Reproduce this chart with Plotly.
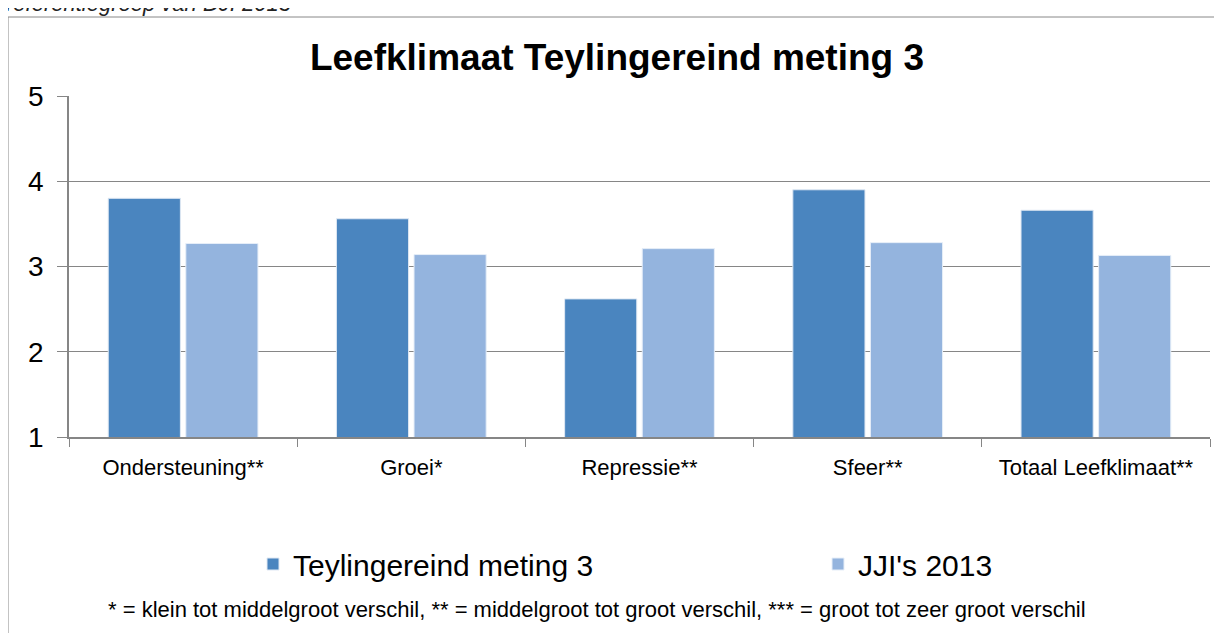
import plotly.graph_objects as go

categories = ["Ondersteuning**", "Groei*", "Repressie**", "Sfeer**", "Totaal Leefklimaat**"]
teylingereind = [3.80, 3.56, 2.62, 3.90, 3.66]
jji_2013 = [3.27, 3.14, 3.21, 3.28, 3.13]
series_names = ["Teylingereind meting 3", "JJI's 2013"]
y_ticks = [1, 2, 3, 4, 5]

# page has an 8px body margin, so work in page pixels and shift
OFF = 8
W, H = 1214, 625
L, R, T, B = 69 - OFF, W - (1210 - OFF), 96 - OFF, H - (437 - OFF)
pw, ph = W - L - R, H - T - B

def px(x):
    return (x - OFF - L) / pw

def py(y):
    return (H - B - (y - OFF)) / ph

font = "Liberation Sans"

fig = go.Figure()
fig.add_trace(go.Bar(x=categories, y=teylingereind, name=series_names[0], legend="legend",
                     marker=dict(color="#4a85bf", line=dict(color="#dfe8f3", width=1))))
fig.add_trace(go.Bar(x=categories, y=jji_2013, name=series_names[1], legend="legend2",
                     marker=dict(color="#94b4de", line=dict(color="#e6eef8", width=1))))

leg = dict(orientation="h", xanchor="left", yanchor="middle", y=py(564),
           font=dict(size=30, family=font), bgcolor="rgba(0,0,0,0)")
fig.update_layout(
    width=W, height=H,
    margin=dict(l=L, r=R, t=T, b=B),
    paper_bgcolor="white", plot_bgcolor="white",
    barmode="group", bargap=0.32, bargroupgap=0.07,
    font=dict(family=font, color="black"),
    title=dict(text="<b>Leefklimaat Teylingereind meting 3</b>", x=(617 - OFF) / W, xanchor="center",
               y=1 - (57 - OFF) / H, yanchor="middle", font=dict(size=37, family=font)),
    legend=dict(leg, x=px(253)),
    legend2=dict(leg, x=px(818)),
    showlegend=True,
)
fig.update_xaxes(showline=True, linecolor="#868686", linewidth=1.5, ticks="outside",
                 tickson="boundaries", ticklen=8, tickcolor="#868686",
                 tickfont=dict(size=22), ticklabelstandoff=10, showgrid=False)
fig.update_yaxes(range=[1, 5], tickvals=y_ticks, showline=True, linecolor="#868686", linewidth=1.5,
                 ticks="outside", ticklen=10, tickcolor="#868686", gridcolor="#868686", gridwidth=1,
                 tickfont=dict(size=28), ticklabelstandoff=8, zeroline=False)

# outer chart border
fig.add_shape(type="rect", xref="paper", yref="paper", x0=px(8), x1=px(1221), y0=py(650), y1=py(17),
              line=dict(color="#888888", width=1), layer="below")

fig.add_annotation(text="* = klein tot middelgroot verschil, ** = middelgroot tot groot verschil, *** = groot tot zeer groot verschil",
                   xref="paper", yref="paper", x=px(597), y=py(609), xanchor="center", yanchor="middle",
                   showarrow=False, font=dict(size=22, family=font))
# caption above the chart, cut off by the top edge as in the source
fig.add_annotation(text="<i>referentiegroep van DJI 2013</i>",
                   xref="paper", yref="paper", x=px(4), y=py(18), xanchor="left", yanchor="bottom",
                   showarrow=False, font=dict(size=22, family=font, color="#222222"))

fig.write_html("out.html")
